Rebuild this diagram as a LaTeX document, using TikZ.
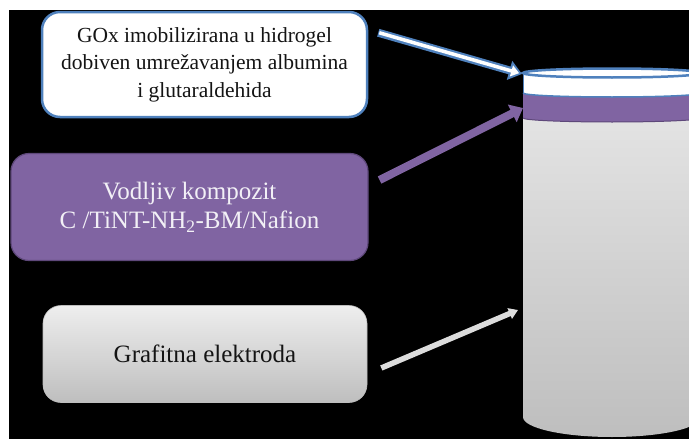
\documentclass[tikz,border=0pt]{standalone}
\usepackage{fontspec}
\setmainfont{Liberation Serif}
\usetikzlibrary{arrows.meta, positioning, calc}
\definecolor{oblue}  {RGB}{79,129,189}
\definecolor{opurple}{RGB}{128,100,162}
\definecolor{dpurple}{RGB}{94,72,122}
\definecolor{ltext}  {RGB}{242,240,246}
\definecolor{dtext}  {RGB}{20,20,20}
\definecolor{lgray}  {RGB}{238,238,238}
\definecolor{mgray}  {RGB}{190,190,190}
\definecolor{agray}  {RGB}{220,220,220}

\tikzset{
  layerbox/.style={rounded corners=18pt, align=center, inner sep=0pt},
  goxbox/.style={layerbox, fill=white, draw=oblue, line width=2.5pt,
    text=dtext, minimum width=325pt, minimum height=105pt,
    font=\fontsize{21.5}{27.5}\selectfont},
  kompbox/.style={layerbox, fill=opurple, draw=dpurple, line width=1.2pt,
    text=ltext, minimum width=357pt, minimum height=107pt,
    font=\fontsize{25}{29.5}\selectfont},
  grafbox/.style={layerbox, top color=lgray, bottom color=mgray,
    draw=mgray, line width=0.6pt, text=dtext,
    minimum width=324pt, minimum height=97pt,
    font=\fontsize{25}{27}\selectfont},
  goxarrow/.style={oblue, line width=8pt,
    -{Triangle[length=13pt, width=19pt]}},
  goxinner/.style={white, line width=3.5pt, shorten >=3pt,
    -{Triangle[length=8pt, width=11pt]}},
  komparrow/.style={opurple, line width=8pt,
    -{Triangle[length=12pt, width=19pt]}},
  grafarrow/.style={agray, line width=5.5pt,
    -{Triangle[length=9pt, width=11pt]}}
}

\begin{document}
\begin{tikzpicture}[x=1pt, y=-1pt]
  \useasboundingbox (0,0) rectangle (689,439);
  \clip (0,0) rectangle (689,439);
  \fill[white] (0,0) rectangle (689,439);
  \fill[black] (9,10) rectangle (689,439);

  % electrode cylinder
  \fill[top color=lgray!90!gray, bottom color=mgray]
    (523,118) -- (523,417)
    arc[start angle=180, end angle=0, x radius=89, y radius=20]
    -- (701,118) -- cycle;
  \fill[opurple] (523,93) -- (523,118)
    arc[start angle=180, end angle=0, x radius=89, y radius=4]
    -- (701,93) arc[start angle=0, end angle=180, x radius=89, y radius=4];
  \draw[dpurple, line width=1pt] (523,118)
    arc[start angle=180, end angle=0, x radius=89, y radius=4];
  \fill[white] (523,73) -- (523,93)
    arc[start angle=180, end angle=0, x radius=89, y radius=4]
    -- (701,73) -- cycle;
  \draw[oblue, line width=1.5pt] (523,93)
    arc[start angle=180, end angle=0, x radius=89, y radius=4];
  \draw[oblue, line width=2.5pt, fill=white] (612,73)
    ellipse[x radius=89, y radius=4.5];
  \draw[oblue, line width=1pt] (523,73) -- (523,93);

  % labels
  \node[goxbox] (gox) at (204.5,64.5)
    {GOx imobilizirana u hidrogel\\dobiven umrežavanjem albumina\\i glutaraldehida};
  \node[kompbox] (komp) at (189.5,207)
    {Vodljiv kompozit\\C /TiNT-NH\textsubscript{2}-BM/Nafion};
  \node[grafbox] (graf) at (205,354) {Grafitna elektroda};

  \coordinate (goxtip)  at (522,74);
  \coordinate (komptip) at (523,108);
  \coordinate (graftip) at (518,310);

  % arrows
  \draw[goxarrow]  ($(gox.north east)+(10,22)$) -- (goxtip);
  \draw[goxinner]  ($(gox.north east)+(11,22)$) -- (goxtip);
  \draw[komparrow] ($(komp.east)+(11,-27)$) -- (komptip);
  \draw[grafarrow] ($(graf.east)+(14,14)$) -- (graftip);
\end{tikzpicture}
\end{document}
